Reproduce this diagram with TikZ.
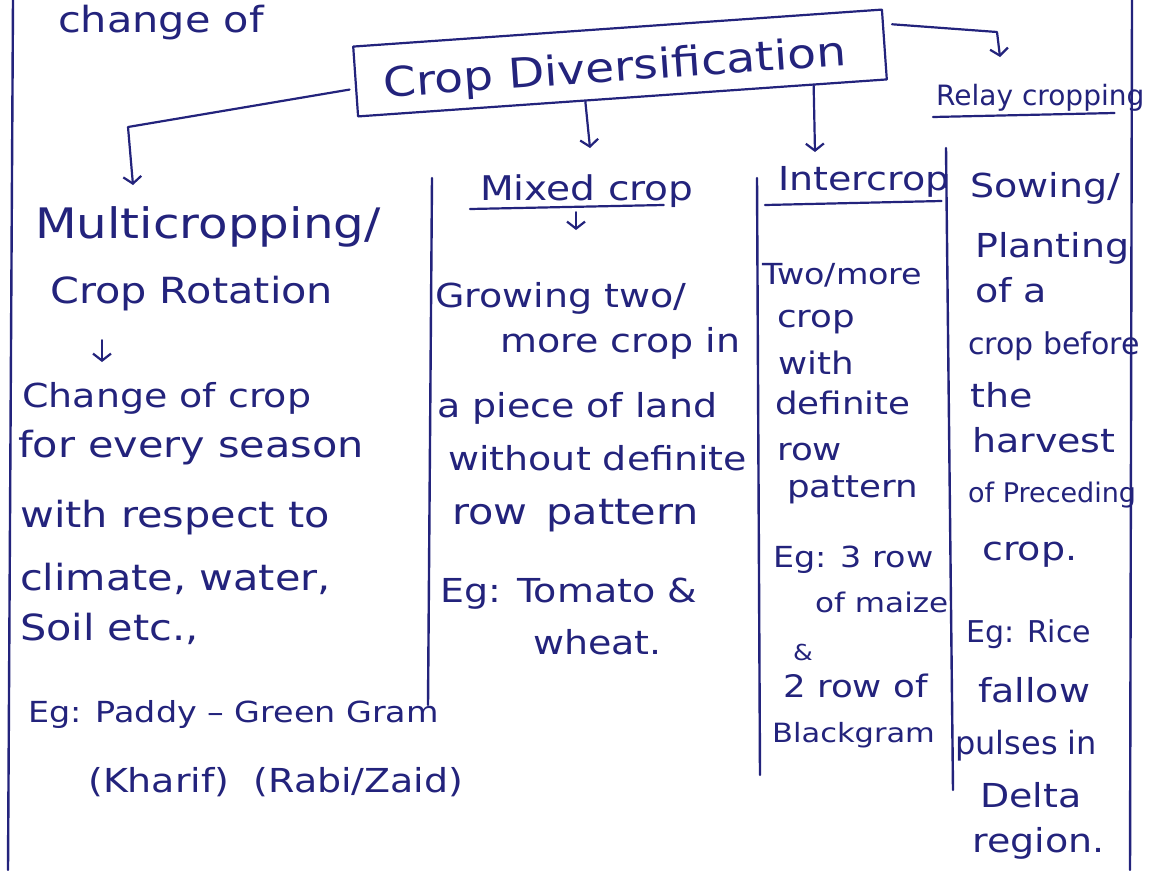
\documentclass[tikz,border=0pt]{standalone}
\usepackage{fontspec}
\setmainfont{DejaVu Sans}
\newfontfamily\hand{DejaVu Sans}[FakeStretch=1.15]
\usetikzlibrary{arrows.meta,calc}
\definecolor{ink}{HTML}{23237C}
\begin{document}
\begin{tikzpicture}[x=1pt,y=-1pt,
  every node/.style={text=ink,inner sep=0pt},
  txt/.style={anchor=base west,font=\hand\fontsize{33}{36}\selectfont},
  ltxt/.style={anchor=base west,font=\hand\fontsize{36}{38}\selectfont},
  itxt/.style={anchor=base west,font=\hand\fontsize{31}{34}\selectfont},
  head/.style={anchor=base west,font=\hand\fontsize{34}{36}\selectfont},
  rtxt/.style={anchor=base west,font=\fontsize{30}{32}\selectfont},
  pen/.style={draw=ink,line width=2.2pt,line cap=round,line join=round},
  conn/.style={pen,-{Straight Barb[length=7pt,width=18pt,line width=2.2pt]}},
  rule/.style={draw=ink,line width=2.4pt,line cap=round}
]
\useasboundingbox (0,0) rectangle (1153,870);
\fill[white] (0,0) rectangle (1153,870);

% margin and column rules
\draw[rule] (13,0) -- (8,870);
\draw[rule] (1132,0) -- (1130,870);
\draw[rule] (432,178) -- (428,705);
\draw[rule] (757,178) -- (760,775);
\draw[rule] (946,148) -- (953,790);

% top text
\node[anchor=base west,font=\hand\fontsize{36}{38}\selectfont] (chg0) at (58,32) {change of};

% central box
\node[pen,rotate=4,minimum width=530pt,minimum height=70pt] (box) at (620,63) {};
\node[rotate=4,font=\hand\fontsize{41}{44}\selectfont] (title) at (615,70) {Crop Diversification};

% heads
\node[anchor=base west,font=\hand\fontsize{42}{44}\selectfont] (multi) at (35,238) {Multicropping/};
\node[ltxt] (rot) at (50,303) {Crop Rotation};
\node[head] (mixed) at (480,200) {Mixed crop};
\node[anchor=base west,font=\hand\fontsize{33}{36}\selectfont] (inter) at (778,190) {Intercrop};
\node[anchor=base west,font=\fontsize{28}{30}\selectfont] (relay) at (936,105) {Relay cropping};

% underlines
\draw[pen] ($(mixed.base west)+(-10,9)$) -- ($(mixed.base east)+(-30,5)$);
\draw[pen] ($(inter.base west)+(-13,15)$) -- ($(inter.base east)+(-8,11)$);
\draw[pen] ($(relay.base west)+(-3,12)$) -- ($(relay.base east)+(-30,8)$);

% connectors from the box
\coordinate (c1) at (128,127);
\coordinate (t1) at (133,185);
\draw[conn] ($(box.west)+(-5,8)$) -- (c1) -- (t1);
\coordinate (t2) at (590,148);
\draw[conn] ($(box.south west)!0.43!(box.south east)$) -- (t2);
\coordinate (t3) at (815,152);
\draw[conn] ($(box.south west)!0.86!(box.south east)$) -- (t3);
\coordinate (c4) at (997,32);
\coordinate (t4) at (1000,57);
\draw[conn] ($(box.north east)!0.22!(box.south east)+(8,0)$) -- (c4) -- (t4);

% left column
\node[txt] (chg) at (22,407) {Change of crop};
\node[ltxt] (every) at (18,457) {for every season};
\node[ltxt] (resp) at (20,527) {with respect to};
\node[ltxt] (clim) at (20,590) {climate, water,};
\node[ltxt] (soil) at (20,640) {Soil etc.,};
\node[anchor=base west,font=\hand\fontsize{29}{32}\selectfont] (egl) at (28,722) {Eg: Paddy – Green Gram};
\node[txt] (seas) at (88,792) {(Kharif) \ (Rabi/Zaid)};
\coordinate (r1) at (102,340);
\coordinate (r2) at (102,362);
\draw[conn,line width=1.8pt] (r1) -- (r2);

% mixed crop column
\coordinate (m1) at (576,212);
\coordinate (m2) at (576,230);
\draw[conn,line width=1.8pt] (m1) -- (m2);
\node[txt] (grow) at (435,307) {Growing two/};
\node[txt] (more) at (500,352) {more crop in};
\node[txt] (piece) at (437,417) {a piece of land};
\node[txt] (wdef) at (448,470) {without definite};
\node[ltxt] (rowp) at (452,524) {row \,pattern};
\node[txt] (egm) at (440,602) {Eg: Tomato \&};
\node[txt] (wheat) at (533,654) {wheat.};

% intercrop column
\node[anchor=base west,font=\hand\fontsize{29}{32}\selectfont] (two) at (762,284) {Two/more};
\node[itxt] (icrop) at (777,327) {crop};
\node[itxt] (with) at (778,374) {with};
\node[itxt] (idef) at (775,414) {definite};
\node[itxt] (irow) at (777,460) {row};
\node[itxt] (ipat) at (787,497) {pattern};
\node[anchor=base west,font=\hand\fontsize{29}{32}\selectfont] (egi) at (773,567) {Eg: 3 row};
\node[anchor=base west,font=\hand\fontsize{27}{30}\selectfont] (maize) at (815,612) {of maize};
\node[anchor=base west,font=\hand\fontsize{22}{24}\selectfont] (amp) at (793,660) {\&};
\node[itxt] (row2) at (783,697) {2 row of};
\node[anchor=base west,font=\hand\fontsize{26.5}{30}\selectfont] (black) at (772,742) {Blackgram};

% relay column
\node[txt] (sow) at (970,197) {Sowing/};
\node[txt] (plant) at (975,257) {Planting};
\node[txt] (ofa) at (975,302) {of a};
\node[rtxt] (cbef) at (968,354) {crop before};
\node[txt] (the) at (970,407) {the};
\node[txt] (harv) at (972,452) {harvest};
\node[anchor=base west,font=\fontsize{27}{30}\selectfont] (prec) at (968,502) {of Preceding};
\node[txt] (rcrop) at (982,560) {crop.};
\node[rtxt] (egr) at (966,642) {Eg: Rice};
\node[txt] (fall) at (978,702) {fallow};
\node[anchor=base west,font=\fontsize{32}{34}\selectfont] (puls) at (955,754) {pulses in};
\node[txt] (delta) at (980,807) {Delta};
\node[txt] (reg) at (972,852) {region.};
\end{tikzpicture}
\end{document}
